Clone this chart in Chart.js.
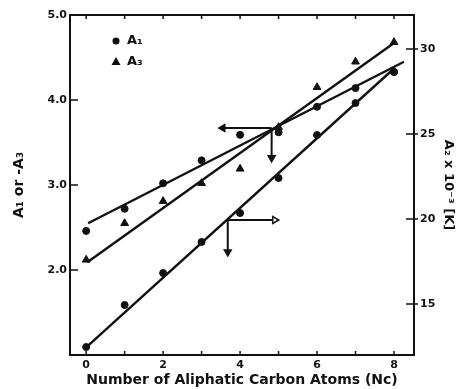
<!DOCTYPE html>
<html>
<head>
<meta charset="utf-8">
<script src="https://cdn.jsdelivr.net/npm/chart.js@4.4.1/dist/chart.umd.min.js"></script>
<style>
    html, body { margin: 0; padding: 0; background: #fff; }
    .chart-container { position: relative; width: 469px; height: 389px; }
</style>
</head>
<body>
<div class="chart-container">
    <canvas id="chart"></canvas>
</div>
<script>
    // values
    const carbonAtoms = [0, 1, 2, 3, 4, 5, 6, 7, 8];
    const a1Values = [2.46, 2.72, 3.02, 3.29, 3.59, 3.62, 3.92, 4.14, 4.33];
    const a3Values = [2.12, 2.55, 2.81, 3.02, 3.19, 3.68, 4.15, 4.45, 4.68];
    const a2Values = [12.47, 14.94, 16.82, 18.65, 20.35, 22.41, 24.94, 26.82, 28.65];

    // drawn fit lines (end points)
    const a1FitX = [0.05, 8.26];
    const a1FitY = [2.55, 4.45];
    const a3FitX = [0.03, 8.0];
    const a3FitY = [2.09, 4.67];
    const a2FitX = [0.0, 7.95];
    const a2FitY = [12.45, 28.75];

    // axis pointer arrows: [junction, end]
    const leftArrowX = [4.82, 3.55];
    const leftArrowY = [3.67, 3.67];
    const leftDownX = [4.82, 4.82];
    const leftDownY = [3.67, 3.32];
    const rightArrowX = [3.68, 4.9];
    const rightArrowY = [19.94, 19.94];
    const rightDownX = [3.68, 3.68];
    const rightDownY = [19.94, 18.06];

    const xTicks = [0, 1, 2, 3, 4, 5, 6, 7, 8];
    const xTickLabels = ['0', '', '2', '', '4', '', '6', '', '8'];
    const yTicks = [1, 2, 3, 4, 5];
    const yTickLabels = ['', '2.0', '3.0', '4.0', '5.0'];
    const y2Ticks = [15, 20, 25, 30];
    const y2TickLabels = ['15', '20', '25', '30'];

    const INK = '#111';
    const FONT = 'DejaVu Sans';

    function pts(xs, ys) {
        return xs.map((x, i) => ({x: x, y: ys[i]}));
    }

    function fitLine(xs, ys, axis) {
        return {
            type: 'line', data: pts(xs, ys), yAxisID: axis,
            borderColor: INK, borderWidth: 2.4, pointRadius: 0
        };
    }

    function arrow(xs, ys, axis, rot, hollow) {
        return {
            type: 'line', data: pts(xs, ys), yAxisID: axis,
            borderColor: INK, borderWidth: 2,
            pointStyle: 'triangle', pointRadius: [0, 4],
            pointRotation: [0, rot],
            pointBackgroundColor: hollow ? '#fff' : INK,
            pointBorderColor: INK, pointBorderWidth: 1.5
        };
    }

    const frameAndTicks = {
        id: 'frameAndTicks',
        afterDraw(chart) {
            const ctx = chart.ctx;
            const a = chart.chartArea;
            const sx = chart.scales.x, sy = chart.scales.y, sy2 = chart.scales.y2;
            ctx.save();
            ctx.strokeStyle = INK;
            ctx.lineWidth = 2;
            ctx.strokeRect(a.left, a.top, a.right - a.left, a.bottom - a.top);
            ctx.lineWidth = 1.5;
            ctx.beginPath();
            xTicks.forEach(v => {
                const px = sx.getPixelForValue(v);
                ctx.moveTo(px, a.bottom); ctx.lineTo(px, a.bottom - 4);
                ctx.moveTo(px, a.top); ctx.lineTo(px, a.top + 4);
            });
            yTicks.slice(1, 4).forEach(v => {
                const py = sy.getPixelForValue(v);
                ctx.moveTo(a.left, py); ctx.lineTo(a.left + 8, py);
            });
            y2Ticks.forEach(v => {
                const py = sy2.getPixelForValue(v);
                ctx.moveTo(a.right - 8, py); ctx.lineTo(a.right + 4, py);
            });
            ctx.stroke();

            // legend
            ctx.fillStyle = INK;
            ctx.beginPath();
            ctx.arc(116, 41, 3.5, 0, Math.PI * 2);
            ctx.fill();
            ctx.beginPath();
            ctx.moveTo(116, 57); ctx.lineTo(120.5, 65); ctx.lineTo(111.5, 65);
            ctx.closePath();
            ctx.fill();
            ctx.font = 'bold 13px ' + FONT;
            ctx.textBaseline = 'middle';
            ctx.fillText('A\u2081', 127, 41);
            ctx.fillText('A\u2083', 127, 62);
            ctx.restore();
        }
    };

    new Chart(document.getElementById('chart'), {
        type: 'scatter',
        data: {
            datasets: [
                {
                    label: 'A\u2081', data: pts(carbonAtoms, a1Values), yAxisID: 'y',
                    pointStyle: 'circle', pointRadius: 3.5,
                    pointBackgroundColor: INK, pointBorderColor: INK
                },
                {
                    label: 'A\u2083', data: pts(carbonAtoms, a3Values), yAxisID: 'y',
                    pointStyle: 'triangle', pointRadius: 4.5,
                    pointBackgroundColor: INK, pointBorderColor: INK
                },
                {
                    label: 'A\u2082', data: pts(carbonAtoms, a2Values), yAxisID: 'y2',
                    pointStyle: 'circle', pointRadius: 3.5,
                    pointBackgroundColor: INK, pointBorderColor: INK
                },
                fitLine(a1FitX, a1FitY, 'y'),
                fitLine(a3FitX, a3FitY, 'y'),
                fitLine(a2FitX, a2FitY, 'y2'),
                arrow(leftArrowX, leftArrowY, 'y', 270, false),
                arrow(leftDownX, leftDownY, 'y', 180, false),
                arrow(rightArrowX, rightArrowY, 'y2', 90, true),
                arrow(rightDownX, rightDownY, 'y2', 180, false)
            ]
        },
        options: {
            responsive: true,
            maintainAspectRatio: false,
            animation: false,
            layout: {padding: {top: 15, left: 0, right: 0, bottom: 0}},
            plugins: {legend: {display: false}, tooltip: {enabled: false}},
            scales: {
                x: {
                    type: 'linear', min: -0.42, max: 8.52,
                    afterBuildTicks: s => { s.ticks = xTicks.map(v => ({value: v})); },
                    afterFit: s => { s.height = 34; },
                    grid: {display: false, drawTicks: false},
                    border: {display: false},
                    ticks: {
                        color: INK, padding: 4, maxRotation: 0,
                        font: {family: FONT, weight: 'bold', size: 11},
                        callback: (v, i) => xTickLabels[i]
                    },
                    title: {
                        display: true, color: INK,
                        text: 'Number of Aliphatic Carbon Atoms (Nc)',
                        font: {family: FONT, weight: 'bold', size: 14},
                        padding: {top: 0, bottom: 0}
                    }
                },
                y: {
                    type: 'linear', position: 'left', min: 1, max: 5,
                    afterBuildTicks: s => { s.ticks = yTicks.map(v => ({value: v})); },
                    afterFit: s => { s.width = 70; },
                    grid: {display: false, drawTicks: false},
                    border: {display: false},
                    ticks: {
                        color: INK, padding: 3,
                        font: {family: FONT, weight: 'bold', size: 11},
                        callback: (v, i) => yTickLabels[i]
                    },
                    title: {
                        display: true, color: INK, text: 'A\u2081 or -A\u2083',
                        font: {family: FONT, weight: 'bold', size: 14},
                        padding: {top: 11, bottom: 0}
                    }
                },
                y2: {
                    type: 'linear', position: 'right', min: 12, max: 32,
                    afterBuildTicks: s => { s.ticks = y2Ticks.map(v => ({value: v})); },
                    afterFit: s => { s.width = 55; },
                    grid: {display: false, drawTicks: false},
                    border: {display: false},
                    ticks: {
                        color: INK, padding: 6,
                        font: {family: FONT, weight: 'bold', size: 11},
                        callback: (v, i) => y2TickLabels[i]
                    },
                    title: {
                        display: true, color: INK, text: 'A\u2082 x 10\u207B\u00B3 [K]',
                        font: {family: FONT, weight: 'bold', size: 13},
                        padding: {top: 13, bottom: 0}
                    }
                }
            }
        },
        plugins: [frameAndTicks]
    });
</script>
</body>
</html>
